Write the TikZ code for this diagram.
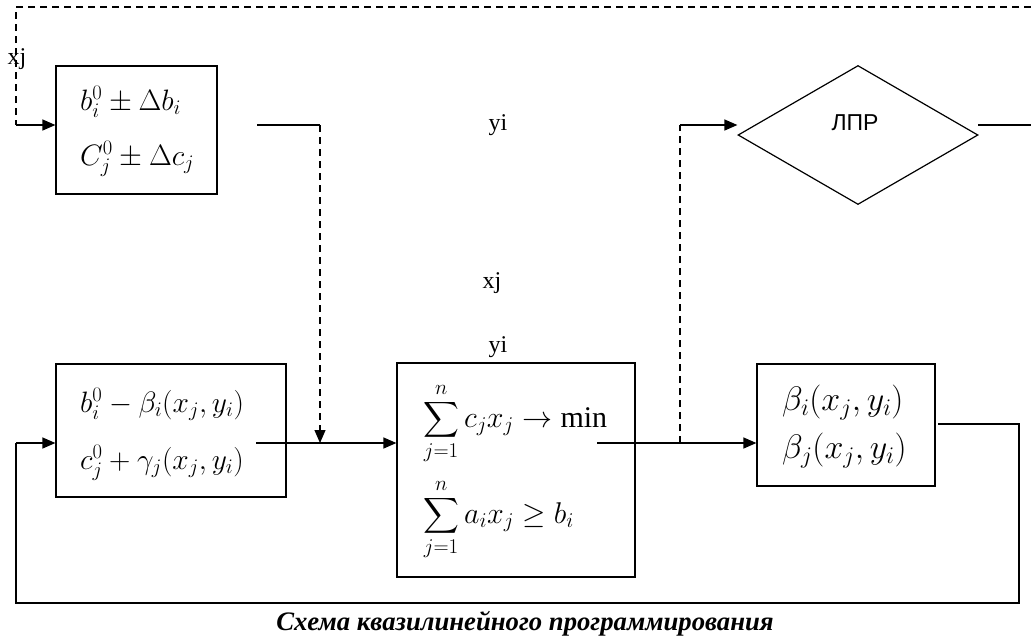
\RequirePackage{fix-cm}
\documentclass[tikz,border=0pt]{standalone}
\usepackage{exscale}
\usepackage{fontspec}
\setmainfont{Liberation Serif}
\newfontfamily\sansru{Liberation Sans}
\usetikzlibrary{arrows.meta,shapes.geometric}
\tikzset{
  box/.style={draw, line width=1.2pt, inner sep=0pt},
  mt/.style={inner sep=0pt, anchor=base west},
  conn/.style={line width=1.2pt},
  dsh/.style={line width=1.2pt, dash pattern=on 7pt off 5pt},
  arr/.style={-{Triangle[length=13pt,width=11pt]}},
  lbl/.style={font=\fontsize{24}{28}\selectfont, inner sep=0pt, anchor=base}
}
\begin{document}
\begin{tikzpicture}[x=1pt,y=-1pt]
\useasboundingbox (0,0) rectangle (1031,638);
% boxes
\node[box, minimum width=161pt, minimum height=128pt] (A) at (136.5,130) {};
\node[box, minimum width=230pt, minimum height=133pt] (B) at (171,430.5) {};
\node[box, minimum width=238pt, minimum height=214pt] (C) at (516,470) {};
\node[box, minimum width=178pt, minimum height=122pt] (D) at (846,425) {};
\node[draw, line width=1.2pt, diamond, aspect=1.73, minimum width=240pt, minimum height=139pt, inner sep=0pt] (P) at (858,135) {};
% box texts
\node[mt, font=\fontsize{29.5}{34}\selectfont] (A1) at (80,110) {$b_i^0\pm\Delta b_i$};
\node[mt, font=\fontsize{29.5}{34}\selectfont] (A2) at (80,165) {$C_j^0\pm\Delta c_j$};
\node[mt, font=\fontsize{29.5}{34}\selectfont] (B1) at (80,412) {$b_i^0-\beta_i(x_j,y_i)$};
\node[mt, font=\fontsize{29.5}{34}\selectfont] (B2) at (80,469) {$c_j^0+\gamma_j(x_j,y_i)$};
\node[mt, font=\fontsize{30}{34}\selectfont] (C1) at (423,427) {$\displaystyle\sum_{j=1}^{n}c_jx_j\to\min$};
\node[mt, font=\fontsize{30}{34}\selectfont] (C2) at (423,523) {$\displaystyle\sum_{j=1}^{n}a_ix_j\ge b_i$};
\node[mt, font=\fontsize{34}{38}\selectfont] (D1) at (782,410) {$\beta_i(x_j,y_i)$};
\node[mt, font=\fontsize{34}{38}\selectfont] (D2) at (782,458) {$\beta_j(x_j,y_i)$};
\node[font=\sansru\fontsize{23}{27}\selectfont, inner sep=0pt, anchor=base] (Pt) at (855,130) {ЛПР};
% labels
\node[lbl] (l1) at (17,64) {xj};
\node[lbl] (l2) at (498,130) {yi};
\node[lbl] (l3) at (492,288) {xj};
\node[lbl] (l4) at (498,352) {yi};
\node[font=\fontsize{26.7}{30}\selectfont\bfseries\itshape, inner sep=0pt, anchor=base] (cap) at (525,630) {Схема квазилинейного программирования};
% coordinates
\coordinate (t0) at (1031,7);
\coordinate (t1) at (16,7);
\coordinate (t2) at (16,125);
\coordinate (a0) at (257,125);
\coordinate (a1) at (320,125);
\coordinate (a2) at (320,443);
\coordinate (b0) at (256,443);
\coordinate (c0) at (597,443);
\coordinate (c1) at (680,443);
\coordinate (c2) at (680,125);
\coordinate (p0) at (978,125);
\coordinate (p1) at (1031,125);
\coordinate (d0) at (938,424);
\coordinate (d1) at (1019,424);
\coordinate (d2) at (1019,603);
\coordinate (d3) at (16,603);
\coordinate (d4) at (16,443);
% connectors
\draw[dsh] (t0) -- (t1) -- (t2);
\draw[conn, arr] (t2) -- (A.west |- t2);
\draw[conn] (a0) -- (a1);
\draw[dsh, arr] (a1) -- (a2);
\draw[conn, arr] (b0) -- (C.west |- b0);
\draw[conn, arr] (c0) -- (D.west |- c0);
\draw[dsh] (c1) -- (c2);
\draw[conn, arr] (c2) -- (P.west |- c2);
\draw[conn] (p0) -- (p1);
\draw[conn] (d0) -- (d1) -- (d2) -- (d3) -- (d4);
\draw[conn, arr] (d4) -- (B.west |- d4);
\end{tikzpicture}
\end{document}
